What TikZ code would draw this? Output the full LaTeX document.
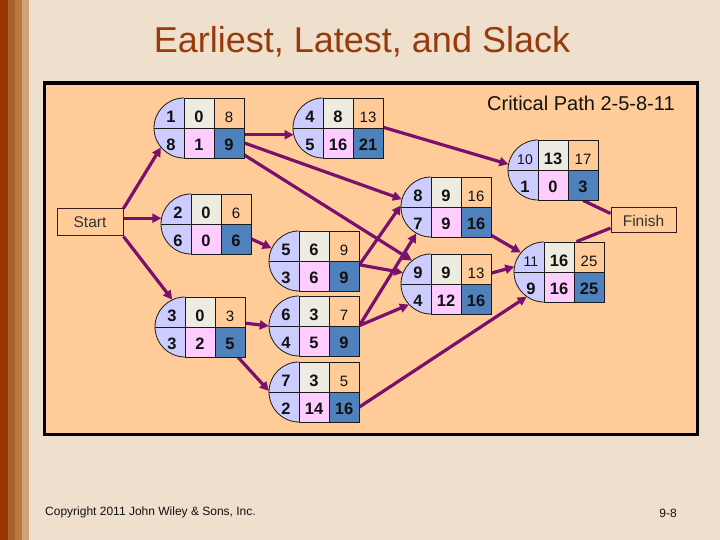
\documentclass[tikz,border=0pt]{standalone}
\usepackage{fontspec}
\setmainfont{Liberation Sans}
\usetikzlibrary{arrows.meta}
\definecolor{bgc}{HTML}{EEE0CD}
\definecolor{peach}{HTML}{FFCC99}
\definecolor{lav}{HTML}{CCCCFF}
\definecolor{cgray}{HTML}{EEECE1}
\definecolor{cpink}{HTML}{FFCCFF}
\definecolor{cblue}{HTML}{4F81BD}
\definecolor{arrowc}{HTML}{7A106E}
\definecolor{titlec}{HTML}{983A0C}
\definecolor{cellline}{HTML}{1A1A1A}
\definecolor{numc}{HTML}{111111}
\definecolor{boxline}{HTML}{3A1A1A}
\definecolor{termtext}{HTML}{333333}
\definecolor{stA}{HTML}{993300}
\definecolor{stB}{HTML}{A8602C}
\definecolor{stC}{HTML}{B97840}
\definecolor{stD}{HTML}{D2A07A}
\pgfdeclarelayer{back}
\pgfdeclarelayer{edges}
\pgfsetlayers{back,edges,main}
\tikzset{
  cell/.style={draw=cellline, line width=0.8pt, minimum width=30pt, minimum height=30pt, inner sep=0pt, text=numc},
  toprow/.style={text height=19.5pt, text depth=0pt},
  botrow/.style={text height=15.5pt, text depth=0pt},
  boldnum/.style={font=\fontsize{16.5}{16.5}\selectfont\bfseries},
  thinnum/.style={font=\fontsize{15}{15}\selectfont},
  idtxt/.style={inner sep=0pt, text=numc},
  conn/.style={draw=arrowc, line width=3.2pt, -{Triangle[length=9pt,width=9pt]}},
  link/.style={draw=arrowc, line width=3.2pt},
  termbox/.style={draw=boxline, line width=1pt, fill=peach, inner sep=0pt, font=\fontsize{15.5}{15.5}\selectfont, text=termtext},
  semline/.style={draw=cellline, line width=0.8pt}
}
\newcommand\idthin{\fontsize{14}{14}\selectfont\mdseries}
% #1 name, #2 x0, #3 yc (pixels from top), #4 id, #5 top-mid, #6 top-right, #7 bottom-left, #8 bottom-mid, #9 bottom-right
\newcommand\pertnode[9]{%
  \pgfmathsetmacro\pnx{#2}%
  \pgfmathsetmacro\pny{540-#3}%
  \fill[lav] (\pnx,\pny+30) arc[start angle=90,end angle=270,radius=30] -- cycle;
  \draw[semline] (\pnx,\pny+30) arc[start angle=90,end angle=270,radius=30];
  \draw[semline] (\pnx-30,\pny) -- (\pnx,\pny);
  \node[circle, inner sep=0pt, minimum size=60pt] (#1) at (\pnx,\pny) {};
  \node[idtxt, boldnum, toprow] (#1-id) at (\pnx-13,\pny+15) {#4};
  \node[idtxt, boldnum, botrow] (#1-bl) at (\pnx-13,\pny-15) {#7};
  \node[cell, fill=cgray, boldnum, toprow] (#1-es) at (\pnx+15,\pny+15) {#5};
  \node[cell, fill=peach, thinnum, toprow] (#1-ef) at (\pnx+45,\pny+15) {#6};
  \node[cell, fill=cpink, boldnum, botrow] (#1-ls) at (\pnx+15,\pny-15) {#8};
  \node[cell, fill=cblue, boldnum, botrow] (#1-lf) at (\pnx+45,\pny-15) {#9};
}
\begin{document}
\begin{tikzpicture}[x=1pt, y=1pt]
\useasboundingbox (0,0) rectangle (720,540);
\begin{pgfonlayer}{back}
  \fill[bgc] (0,0) rectangle (720,540);
  \fill[stA] (0,0) rectangle (7.5,540);
  \fill[stB] (7.5,0) rectangle (15,540);
  \fill[stC] (15,0) rectangle (22,540);
  \fill[stD] (22,0) rectangle (29,540);
  \draw[fill=peach, draw=black, line width=3.5pt] (44.3,540-83) rectangle (697.3,540-434.3);
\end{pgfonlayer}

\node[anchor=base, inner sep=0pt, font=\fontsize{36}{36}\selectfont, text=titlec] (title) at (362,540-53) {Earliest, Latest, and Slack};
\node[anchor=base west, inner sep=0pt, font=\fontsize{20}{20}\selectfont, text=numc] (cp) at (487,540-111) {Critical Path 2-5-8-11};
\node[anchor=base west, inner sep=0pt, font=\fontsize{12}{12}\selectfont, text=numc] (copy) at (45,540-516) {Copyright 2011 John Wiley \& Sons, Inc.};
\node[anchor=base, inner sep=0pt, font=\fontsize{12}{12}\selectfont, text=numc] (pg) at (668,540-518) {9-8};

\node[termbox, minimum width=66pt, minimum height=27pt] (start) at (90,540-222.5) {Start};
\node[termbox, minimum width=65pt, minimum height=25pt] (finish) at (643.5,540-220.5) {Finish};

\pertnode{n1}{184}{128}{1}{0}{8}{8}{1}{9}
\pertnode{n2}{191}{224}{2}{0}{6}{6}{0}{6}
\pertnode{n3}{185}{327}{3}{0}{3}{3}{2}{5}
\pertnode{n4}{323}{128}{4}{8}{13}{5}{16}{21}
\pertnode{n5}{299}{261}{5}{6}{9}{3}{6}{9}
\pertnode{n6}{299}{326}{6}{3}{7}{4}{5}{9}
\pertnode{n7}{299}{392}{7}{3}{5}{2}{14}{16}
\pertnode{n8}{431}{207}{8}{9}{16}{7}{9}{16}
\pertnode{n9}{431}{284}{9}{9}{13}{4}{12}{16}
\pertnode{n10}{538}{170}{{\idthin 10}}{13}{17}{1}{0}{3}
\pertnode{n11}{544}{272}{{\idthin 11}}{16}{25}{9}{16}{25}

\begin{pgfonlayer}{edges}
  \draw[conn] (start.north east) -- (n1.220);
  \draw[conn] (start.east |- n2.169) -- (n2.169);
  \draw[conn] (start.south east) -- (n3.115);
  \draw[conn] (n1-lf.east |- n4.193) -- (n4.193);
  \draw[conn] (n1-lf.east) -- (n8.165);
  \draw[conn] (n1-lf.-38) -- (n9.129);
  \draw[conn] (n2-lf.east) -- (n5.155);
  \draw[conn] (n3-ef.-36) -- (n6.180);
  \draw[conn] (n3-lf.-62) -- (n7.178);
  \draw[conn] (n4-ef.-43) -- (n10.169);
  \draw[conn] (n5-lf.36) -- (n8.177);
  \draw[conn] (n5-lf.36) -- (n9.158);
  \draw[conn] (n6-lf.north east) -- (n8.241);
  \draw[conn] (n6-lf.north east) -- (n9.223);
  \draw[conn] (n7-lf.east) -- (n11.235);
  \draw[conn] (n8-lf.-41) -- (n11.140);
  \draw[conn] (n9-ef.-15) -- (n11.170);
  \draw[link] (n10-lf.south) -- (finish.168);
  \draw[link] (n11-ef.129) -- (finish.193);
\end{pgfonlayer}
\end{tikzpicture}
\end{document}
